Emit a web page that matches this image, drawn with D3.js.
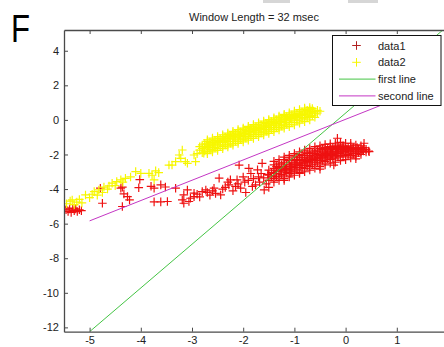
<!DOCTYPE html>
<html lang="en">
    <head>
        <meta charset="utf-8">
        <title>Window Length</title>
        <script src="https://d3js.org/d3.v7.min.js"></script>
        <style type="text/css">
            body { margin: 0; background: #fff; }
            text { font-family: "Liberation Sans", Arial, sans-serif; }
        </style>
    </head>
    <body>
        <script>
            // data
            var data1 = [
                [-5.5,-5.05],[-5.46,-5.2],[-5.42,-5.3],[-5.39,-5.15],[-5.36,-5.35],[-5.33,-5.1],[-5.3,-5.25],
                [-5.27,-5.15],[-5.24,-5.3],[-5.2,-5.2],[-5.16,-5.25],
                [-4.79,-3.95],[-4.75,-4.82],[-4.39,-3.95],[-4.36,-3.89],[-4.33,-4.28],[-4.26,-4.44],[-4.22,-4.63],
                [-4.36,-5.01],[-4.02,-3.45],[-4.04,-3.92],[-3.80,-3.84],[-3.74,-3.95],[-3.52,-3.88],[-3.32,-3.95],
                [-3.74,-4.74],[-3.61,-4.74],[-3.48,-4.72],[-3.61,-3.76],
                [-3.16,-4.34],[-3.09,-4.05],[-3.19,-4.63],[-3.06,-4.72],[-3.16,-4.82],[-3.03,-4.53],[-2.96,-4.44],
                [-2.96,-4.24],[-2.9,-4.3],[-2.85,-4.45],[-2.80,-4.15],[-2.73,-4.05],[-2.70,-4.2],[-2.65,-4.35],
                [-2.6,-4.1],[-2.57,-3.95],[-2.54,-4.25],[-2.47,-3.37],[-2.44,-4.34],[-2.4,-4.0],[-2.35,-3.9],
                [-2.3,-3.6],[-2.28,-3.76],[-2.25,-3.47],[-2.2,-4.1],[-2.15,-3.85],[-2.12,-3.47],[-2.1,-3.7],
                [-2.08,-2.61],[-2.05,-3.95],[-2.0,-3.3],[-1.97,-3.6],[-1.95,-4.2],[-1.9,-3.5],[-1.89,-2.80],
                [-1.85,-3.1],[-1.82,-3.85],[-1.8,-3.4],[-1.76,-3.76],[-1.72,-2.89],[-1.7,-3.3],[-1.68,-3.6],
                [-1.65,-3.1],[-1.63,-2.51],[-1.6,-3.35],[-1.59,-4.05],[-1.55,-3.7],[-1.52,-3.15],[-1.5,-3.9],
                [-1.5,-3.5],[-1.5,-3.2],[-1.5,-2.9],[-1.45,-3.3],[-1.45,-3.05],
                [-1.4,-3.4],[-1.4,-3.1],[-1.4,-2.8],[-1.4,-2.6],[-1.35,-3.25],[-1.35,-2.95],[-1.35,-2.7],
                [-1.3,-3.3],[-1.3,-3.0],[-1.3,-2.75],[-1.3,-2.5],[-1.25,-3.15],[-1.25,-2.85],[-1.25,-2.6],
                [-1.2,-3.2],[-1.2,-2.95],[-1.2,-2.7],[-1.2,-2.45],[-1.2,-2.3],[-1.15,-3.05],[-1.15,-2.8],[-1.15,-2.55],
                [-1.1,-3.1],[-1.1,-2.85],[-1.1,-2.6],[-1.1,-2.35],[-1.1,-2.2],[-1.05,-2.95],[-1.05,-2.7],[-1.05,-2.45],
                [-1.0,-3.0],[-1.0,-2.75],[-1.0,-2.5],[-1.0,-2.3],[-1.0,-2.1],[-0.95,-2.85],[-0.95,-2.6],[-0.95,-2.35],[-0.95,-2.15],
                [-0.9,-2.9],[-0.9,-2.65],[-0.9,-2.45],[-0.9,-2.2],[-0.9,-2.0],[-0.85,-2.75],[-0.85,-2.5],[-0.85,-2.3],[-0.85,-2.05],
                [-0.8,-2.8],[-0.8,-2.55],[-0.8,-2.35],[-0.8,-2.15],[-0.8,-1.9],[-0.75,-2.65],[-0.75,-2.4],[-0.75,-2.2],[-0.75,-1.95],
                [-0.7,-2.7],[-0.7,-2.45],[-0.7,-2.25],[-0.7,-2.05],[-0.7,-1.85],[-0.65,-2.55],[-0.65,-2.3],[-0.65,-2.1],[-0.65,-1.9],
                [-0.6,-2.6],[-0.6,-2.35],[-0.6,-2.15],[-0.6,-1.95],[-0.6,-1.75],[-0.55,-2.45],[-0.55,-2.2],[-0.55,-2.0],[-0.55,-1.8],
                [-0.5,-2.5],[-0.5,-2.25],[-0.5,-2.05],[-0.5,-1.85],[-0.5,-1.65],[-0.45,-2.35],[-0.45,-2.1],[-0.45,-1.9],[-0.45,-1.7],
                [-0.4,-2.4],[-0.4,-2.15],[-0.4,-1.95],[-0.4,-1.75],[-0.4,-1.6],[-0.35,-2.25],[-0.35,-2.05],[-0.35,-1.85],[-0.35,-1.65],
                [-0.3,-2.3],[-0.3,-2.1],[-0.3,-1.9],[-0.3,-1.7],[-0.3,-1.55],[-0.25,-2.2],[-0.25,-2.0],[-0.25,-1.8],[-0.25,-1.6],
                [-0.2,-2.25],[-0.2,-2.05],[-0.2,-1.85],[-0.2,-1.65],[-0.2,-1.5],[-0.15,-2.1],[-0.15,-1.9],[-0.15,-1.7],[-0.15,-1.55],
                [-0.1,-2.15],[-0.1,-1.95],[-0.1,-1.75],[-0.1,-1.6],[-0.1,-1.45],[-0.05,-2.05],[-0.05,-1.85],[-0.05,-1.65],[-0.05,-1.5],
                [0.0,-2.1],[0.0,-1.9],[0.0,-1.7],[0.0,-1.55],[0.05,-2.0],[0.05,-1.8],[0.05,-1.6],
                [0.1,-2.05],[0.1,-1.85],[0.1,-1.65],[0.1,-1.5],[0.15,-1.95],[0.15,-1.75],[0.15,-1.6],
                [0.2,-1.95],[0.2,-1.8],[0.2,-1.65],[0.25,-1.9],[0.25,-1.7],[0.3,-1.85],[0.3,-1.65],
                [0.35,-1.8],[0.35,-1.6],[0.4,-1.85],[0.4,-1.7],[0.45,-1.8],
                [-0.16,-1.06],[0.36,-1.35],[-0.23,-2.61],[0.2,-2.25],[-0.5,-2.85],[-1.07,-3.08],[0.46,-1.84],
                [-1.2,-3.5],[-0.9,-3.1],
                [-1.4,-2.4],[-1.3,-2.3],[-1.2,-2.15],[-1.1,-2.05],[-1.0,-1.95],[-0.9,-1.85],[-0.8,-1.75],
                [-0.7,-1.65],[-0.6,-1.55],[-0.5,-1.5],[-0.4,-1.42],[-0.3,-1.38],[-0.2,-1.35],[-0.1,-1.3],
                [0.0,-1.35],[0.1,-1.35],[0.2,-1.45],[0.3,-1.5],
                [-1.4,-3.6],[-1.3,-3.5],[-1.2,-3.4],[-1.1,-3.3],[-1.0,-3.2],[-0.9,-3.05],[-0.8,-3.0],
                [-0.7,-2.9],[-0.6,-2.8],[-0.5,-2.7],[-0.4,-2.6],[-0.3,-2.5],[-0.2,-2.45],[-0.1,-2.35],
                [0.0,-2.3],[0.1,-2.2],[0.2,-2.1],[0.3,-2.0],
                [-1.375,-3.1],[-1.275,-2.9],[-1.175,-2.85],[-1.075,-2.7],[-0.975,-2.6],[-0.875,-2.55],
                [-0.775,-2.45],[-0.675,-2.35],[-0.575,-2.25],[-0.475,-2.15],[-0.375,-2.0],[-0.275,-1.95],
                [-0.175,-1.95],[-0.075,-1.8],[0.025,-1.75],[0.125,-1.7],[0.225,-1.6],[0.325,-1.75]
            ];

            var data2 = [
                [-5.45,-4.85],[-5.38,-4.7],[-5.34,-4.63],[-5.3,-4.9],[-5.25,-4.75],[-5.2,-4.6],[-5.15,-4.8],
                [-5.08,-4.34],[-5.0,-4.5],[-4.95,-4.3],[-4.91,-4.15],[-4.85,-4.35],[-4.82,-4.05],[-4.75,-4.2],
                [-4.72,-3.89],[-4.65,-4.0],[-4.62,-3.82],[-4.56,-3.66],[-4.5,-3.8],[-4.47,-3.57],[-4.39,-3.47],
                [-4.35,-3.6],[-4.30,-3.38],[-4.2,-3.3],[-4.10,-2.99],[-4.0,-3.09],[-3.84,-3.09],[-3.78,-3.2],
                [-3.71,-2.95],[-3.74,-3.47],[-3.65,-3.05],[-3.45,-2.61],[-3.39,-2.61],[-3.32,-2.41],[-3.22,-2.22],
                [-3.19,-1.74],[-3.25,-2.03],[-3.09,-2.51],[-3.13,-2.41],[-2.96,-2.03],[-2.93,-2.41],[-2.90,-1.95],
                [-2.77,-1.93],[-2.60,-1.74],
                [-2.85,-1.75],[-2.85,-1.55],[-2.8,-1.9],[-2.8,-1.65],[-2.8,-1.45],[-2.75,-1.8],[-2.75,-1.55],[-2.75,-1.35],
                [-2.7,-1.85],[-2.7,-1.6],[-2.7,-1.4],[-2.7,-1.25],[-2.65,-1.7],[-2.65,-1.5],[-2.65,-1.3],
                [-2.6,-1.75],[-2.6,-1.5],[-2.6,-1.3],[-2.6,-1.15],[-2.55,-1.6],[-2.55,-1.4],[-2.55,-1.2],
                [-2.5,-1.65],[-2.5,-1.4],[-2.5,-1.2],[-2.5,-1.05],[-2.45,-1.5],[-2.45,-1.3],[-2.45,-1.1],
                [-2.4,-1.55],[-2.4,-1.3],[-2.4,-1.1],[-2.4,-0.95],[-2.35,-1.45],[-2.35,-1.2],[-2.35,-1.0],
                [-2.3,-1.45],[-2.3,-1.25],[-2.3,-1.05],[-2.3,-0.85],[-2.25,-1.35],[-2.25,-1.1],[-2.25,-0.9],
                [-2.2,-1.35],[-2.2,-1.15],[-2.2,-0.95],[-2.2,-0.75],[-2.15,-1.25],[-2.15,-1.0],[-2.15,-0.8],
                [-2.1,-1.25],[-2.1,-1.05],[-2.1,-0.85],[-2.1,-0.65],[-2.05,-1.15],[-2.05,-0.9],[-2.05,-0.7],
                [-2.0,-1.15],[-2.0,-0.95],[-2.0,-0.75],[-2.0,-0.55],[-1.95,-1.05],[-1.95,-0.8],[-1.95,-0.6],
                [-1.9,-1.05],[-1.9,-0.85],[-1.9,-0.65],[-1.9,-0.45],[-1.85,-0.95],[-1.85,-0.7],[-1.85,-0.5],
                [-1.8,-0.95],[-1.8,-0.75],[-1.8,-0.55],[-1.8,-0.35],[-1.75,-0.85],[-1.75,-0.6],[-1.75,-0.4],
                [-1.7,-0.85],[-1.7,-0.65],[-1.7,-0.45],[-1.7,-0.25],[-1.65,-0.75],[-1.65,-0.5],[-1.65,-0.3],
                [-1.6,-0.75],[-1.6,-0.55],[-1.6,-0.35],[-1.6,-0.15],[-1.55,-0.65],[-1.55,-0.4],[-1.55,-0.2],
                [-1.5,-0.65],[-1.5,-0.45],[-1.5,-0.25],[-1.5,-0.05],[-1.45,-0.55],[-1.45,-0.3],[-1.45,-0.1],
                [-1.4,-0.55],[-1.4,-0.35],[-1.4,-0.15],[-1.4,0.05],[-1.35,-0.45],[-1.35,-0.2],[-1.35,0.0],
                [-1.3,-0.45],[-1.3,-0.25],[-1.3,-0.05],[-1.3,0.15],[-1.25,-0.35],[-1.25,-0.1],[-1.25,0.1],
                [-1.2,-0.35],[-1.2,-0.15],[-1.2,0.05],[-1.2,0.25],[-1.15,-0.25],[-1.15,0.0],[-1.15,0.2],
                [-1.1,-0.25],[-1.1,-0.05],[-1.1,0.15],[-1.1,0.3],[-1.05,-0.15],[-1.05,0.1],[-1.05,0.3],
                [-1.0,-0.15],[-1.0,0.05],[-1.0,0.25],[-1.0,0.4],[-0.95,-0.05],[-0.95,0.15],[-0.95,0.35],
                [-0.9,-0.05],[-0.9,0.15],[-0.9,0.35],[-0.9,0.5],[-0.85,0.05],[-0.85,0.25],[-0.85,0.45],
                [-0.8,0.1],[-0.8,0.3],[-0.8,0.5],[-0.8,0.6],[-0.75,0.15],[-0.75,0.35],[-0.75,0.55],
                [-0.7,0.2],[-0.7,0.4],[-0.7,0.6],[-0.65,0.25],[-0.65,0.45],[-0.65,0.65],
                [-0.6,0.35],[-0.6,0.5],[-0.55,0.4],[-0.55,0.55],[-0.5,0.5],
                [-2.7,-1.15],[-2.6,-1.05],[-2.5,-0.96],[-2.4,-0.86],[-2.3,-0.76],[-2.2,-0.66],[-2.1,-0.56],
                [-2.0,-0.47],[-1.9,-0.37],[-1.8,-0.27],[-1.7,-0.17],[-1.6,-0.07],[-1.5,0.02],[-1.4,0.12],
                [-1.3,0.22],[-1.2,0.32],[-1.1,0.41],[-1.0,0.51],[-0.9,0.6],[-0.8,0.68],[-0.7,0.72],
                [-2.7,-1.95],[-2.6,-1.85],[-2.5,-1.76],[-2.4,-1.66],[-2.3,-1.56],[-2.2,-1.46],[-2.1,-1.36],
                [-2.0,-1.27],[-1.9,-1.17],[-1.8,-1.07],[-1.7,-0.97],[-1.6,-0.87],[-1.5,-0.78],[-1.4,-0.68],
                [-1.3,-0.58],[-1.2,-0.48],[-1.1,-0.39],[-1.0,-0.29],[-0.9,-0.19],[-0.8,-0.1],[-0.7,0.0],[-0.6,0.15],
                [-2.675,-1.45],[-2.575,-1.35],[-2.475,-1.25],[-2.375,-1.15],[-2.275,-1.05],[-2.175,-0.98],
                [-2.075,-0.88],[-1.975,-0.78],[-1.875,-0.68],[-1.775,-0.58],[-1.675,-0.5],[-1.575,-0.4],
                [-1.475,-0.3],[-1.375,-0.22],[-1.275,-0.1],[-1.175,0.0],[-1.075,0.08],[-0.975,0.2],
                [-0.875,0.3],[-0.775,0.4],[-0.675,0.48]
            ];

            var line1X = [-5, 1.9];
            var line1Y = [-12.25, 5.2];
            var line2X = [-5, 1.0];
            var line2Y = [-5.84, 1.21];

            var xTicks = [-5, -4, -3, -2, -1, 0, 1];
            var yTicks = [-12, -10, -8, -6, -4, -2, 0, 2, 4];
            var legendLabels = ["data1", "data2", "first line", "second line"];
            var titleText = "Window Length = 32 msec";

            // configuration
            var outerWidth = 444;
            var outerHeight = 347;
            var plot = { left: 64, top: 30, right: 448, bottom: 331.7 };
            var red = "#ee1111";
            var yellow = "#f7f700";
            var green = "#44c444";
            var magenta = "#c436c4";
            var axisColor = "#4a4a4a";

            var svg = d3.select("body")
                .append("svg")
                .attr("width", outerWidth)
                .attr("height", outerHeight);

            // bits of the window bar at the top edge
            svg.append("rect").attr("x", 263).attr("y", 0).attr("width", 27).attr("height", 3).attr("fill", "#d6d6d6");
            svg.append("rect").attr("x", 348).attr("y", 0).attr("width", 30).attr("height", 3).attr("fill", "#d6d6d6");

            var xScale = d3.scaleLinear().domain([-5.5, 2]).range([plot.left, plot.right]);
            var yScale = d3.scaleLinear().domain([-12.25, 5.2]).range([plot.bottom, plot.top]);

            svg.append("clipPath").attr("id", "clip")
                .append("rect")
                .attr("x", plot.left).attr("y", plot.top)
                .attr("width", plot.right - plot.left).attr("height", plot.bottom - plot.top);

            var g = svg.append("g").attr("clip-path", "url(#clip)");

            var plus = "M-4.3,0H4.3M0,-4.3V4.3";

            g.selectAll(".d1").data(data1).enter().append("path")
                .attr("class", "d1")
                .attr("d", plus)
                .attr("transform", function (d) { return "translate(" + xScale(d[0]) + "," + yScale(d[1]) + ")"; })
                .attr("stroke", red)
                .attr("stroke-width", 1.2)
                .attr("fill", "none");

            g.selectAll(".d2").data(data2).enter().append("path")
                .attr("class", "d2")
                .attr("d", plus)
                .attr("transform", function (d) { return "translate(" + xScale(d[0]) + "," + yScale(d[1]) + ")"; })
                .attr("stroke", yellow)
                .attr("stroke-width", 1.2)
                .attr("fill", "none");

            var line = d3.line()
                .x(function (d) { return xScale(d[0]); })
                .y(function (d) { return yScale(d[1]); });

            g.append("path")
                .datum(d3.zip(line1X, line1Y))
                .attr("d", line)
                .attr("stroke", green)
                .attr("fill", "none");

            g.append("path")
                .datum(d3.zip(line2X, line2Y))
                .attr("d", line)
                .attr("stroke", magenta)
                .attr("fill", "none");

            // axes box, ticks pointing inward
            function styleAxis(sel) {
                sel.selectAll("path.domain").attr("stroke", axisColor).attr("stroke-width", 1.3);
                sel.selectAll(".tick line").attr("stroke", axisColor);
                sel.selectAll(".tick text")
                    .attr("fill", "#222")
                    .style("font-size", "11px")
                    .style("font-family", "'Liberation Sans', Arial, sans-serif");
            }

            var fmt = function (d) { return String(d); };

            svg.append("g")
                .attr("transform", "translate(0," + plot.bottom + ")")
                .call(d3.axisBottom(xScale).tickValues(xTicks).tickFormat(fmt).tickSize(-4).tickSizeOuter(0).tickPadding(5))
                .call(styleAxis);

            svg.append("g")
                .attr("transform", "translate(0," + plot.top + ")")
                .call(d3.axisTop(xScale).tickValues(xTicks).tickFormat("").tickSize(-4).tickSizeOuter(0))
                .call(styleAxis);

            svg.append("g")
                .attr("transform", "translate(" + plot.left + ",0)")
                .call(d3.axisLeft(yScale).tickValues(yTicks).tickFormat(fmt).tickSize(-4).tickSizeOuter(0).tickPadding(5))
                .call(styleAxis);

            svg.append("g")
                .attr("transform", "translate(" + plot.right + ",0)")
                .call(d3.axisRight(yScale).tickValues(yTicks).tickFormat("").tickSize(-4).tickSizeOuter(0))
                .call(styleAxis);

            // title and panel letter
            svg.append("text")
                .attr("x", 254).attr("y", 21)
                .attr("text-anchor", "middle")
                .attr("fill", "#222")
                .style("font-size", "11px")
                .text(titleText);

            svg.append("text")
                .attr("transform", "translate(11,42) scale(0.82,1)")
                .attr("fill", "#000")
                .style("font-size", "38px")
                .text("F");

            // legend
            var legend = svg.append("g").attr("transform", "translate(332.5,35.5)");
            legend.append("rect")
                .attr("width", 108.5).attr("height", 70)
                .attr("fill", "#fff")
                .attr("stroke", "#111");

            var rowY = [10, 26.8, 43.6, 60.4];
            legend.append("path").attr("d", plus).attr("transform", "translate(24," + rowY[0] + ")")
                .attr("stroke", "#b02020").attr("fill", "none");
            legend.append("path").attr("d", plus).attr("transform", "translate(24," + rowY[1] + ")")
                .attr("stroke", yellow).attr("fill", "none");
            legend.append("line").attr("x1", 6.5).attr("x2", 43).attr("y1", rowY[2]).attr("y2", rowY[2])
                .attr("stroke", green);
            legend.append("line").attr("x1", 6.5).attr("x2", 43).attr("y1", rowY[3]).attr("y2", rowY[3])
                .attr("stroke", magenta);

            legend.selectAll(".lab").data(legendLabels).enter().append("text")
                .attr("class", "lab")
                .attr("x", 45.5)
                .attr("y", function (d, i) { return rowY[i] + 4; })
                .attr("fill", "#222")
                .style("font-size", "11px")
                .text(function (d) { return d; });
        </script>
    </body>
</html>
